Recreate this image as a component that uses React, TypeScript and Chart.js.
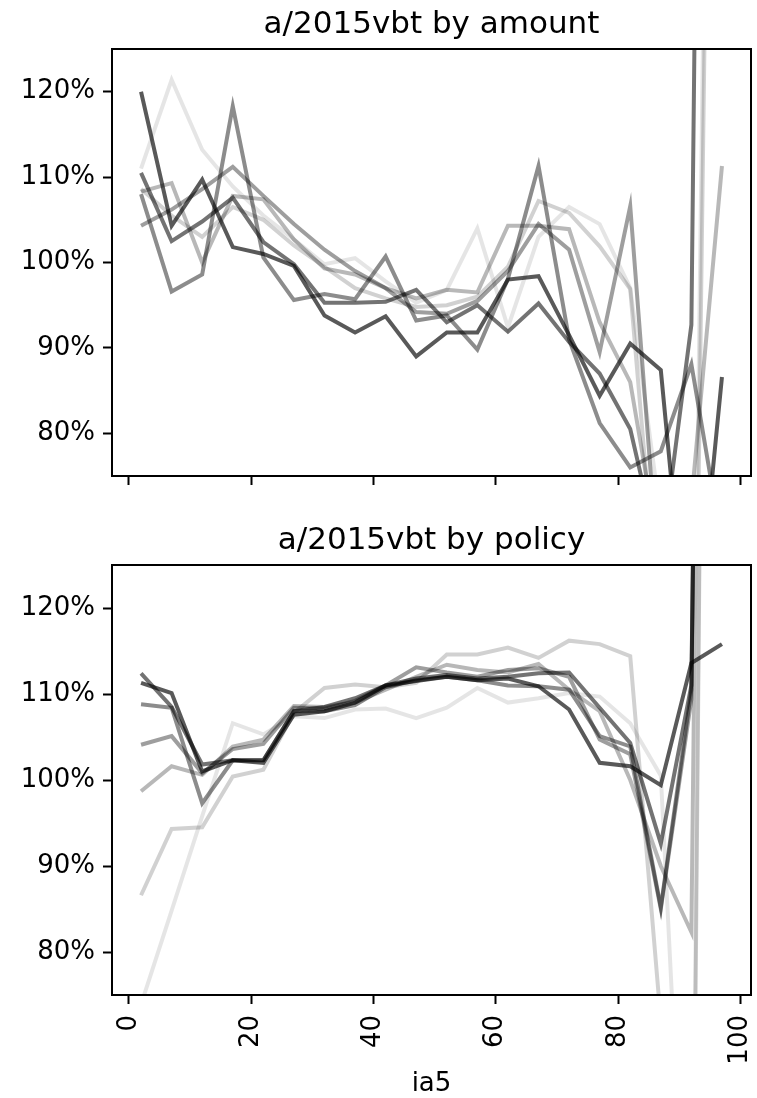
import { useEffect, useRef } from "react";
import { Chart, registerables } from "chart.js";

Chart.register(...registerables);

// ---- data ----
const ia5 = [2, 7, 12, 17, 22, 27, 32, 37, 42, 47, 52, 57, 62, 67, 72, 77, 82, 87, 92, 97];
const xTicks = [0, 20, 40, 60, 80, 100];
const yTicks = [80, 90, 100, 110, 120];
const lineAlphas = [0.1, 0.18, 0.28, 0.38, 0.45, 0.55, 0.65];

const titleAmount = "a/2015vbt by amount";
const titlePolicy = "a/2015vbt by policy";
const xAxisLabel = "ia5";

// by amount (%)
const amount1 = [111.0, 121.4, 113.2, 108.9, 105.5, 102.7, 99.8, 100.5, 97.8, 95.3, 96.8, 104.0, 92.4, 103.0, 106.5, 104.5, 97.0, 70.0, 20.0, 300.0];
const amount2 = [108.6, 105.5, 103.0, 106.5, 105.0, 102.0, 99.5, 97.0, 95.8, 94.8, 95.0, 96.0, 99.5, 107.2, 105.8, 101.9, 96.9, 55.0, 10.0, 280.0];
const amount3 = [108.3, 109.3, 100.0, 107.8, 107.4, 102.7, 99.3, 98.6, 97.0, 95.8, 96.8, 96.5, 104.3, 104.3, 103.9, 93.0, 86.0, 65.0, 72.0, 111.3];
const amount4 = [104.3, 106.2, 108.6, 111.2, 107.8, 104.5, 101.5, 99.0, 97.0, 94.2, 94.0, 95.5, 99.0, 104.5, 101.5, 89.5, 106.6, 60.0, 40.0, 40.0];
const amount5 = [108.0, 96.6, 98.6, 118.3, 100.6, 95.6, 96.3, 95.7, 100.7, 93.2, 93.8, 89.8, 98.1, 111.3, 91.0, 81.2, 76.0, 77.9, 88.1, 67.0];
const amount6 = [110.5, 102.5, 104.8, 107.6, 102.4, 99.8, 95.3, 95.3, 95.4, 96.8, 93.0, 95.0, 91.9, 95.2, 90.7, 87.0, 80.5, 65.0, 92.7, 420.0];
const amount7 = [120.0, 104.3, 109.7, 101.8, 101.0, 99.6, 93.8, 91.8, 93.7, 89.0, 91.8, 91.8, 98.0, 98.4, 91.5, 84.4, 90.5, 87.4, 50.0, 86.6];

// by policy (%)
const policy1 = [73.9, 84.8, 95.8, 106.6, 105.3, 107.4, 107.2, 108.2, 108.3, 107.2, 108.4, 110.7, 109.0, 109.5, 110.1, 109.7, 106.6, 100.5, 30.0, 400.0];
const policy2 = [86.6, 94.3, 94.5, 100.4, 101.2, 107.8, 110.7, 111.1, 110.8, 111.3, 114.6, 114.6, 115.4, 114.2, 116.2, 115.8, 114.4, 72.0, 20.0, 420.0];
const policy3 = [98.7, 101.6, 100.6, 103.9, 104.7, 108.6, 108.5, 109.0, 110.5, 112.0, 113.4, 112.8, 112.5, 113.5, 110.5, 108.0, 100.0, 90.0, 82.3, 400.0];
const policy4 = [104.1, 105.1, 100.8, 103.6, 104.2, 108.4, 108.3, 109.2, 111.0, 113.1, 112.5, 112.0, 112.8, 113.0, 112.0, 104.7, 103.0, 85.0, 109.4, 400.0];
const policy5 = [108.8, 108.4, 97.3, 102.3, 102.3, 108.0, 108.0, 108.7, 110.8, 111.6, 112.0, 111.6, 111.0, 110.9, 110.5, 105.1, 103.9, 85.2, 110.5, 400.0];
const policy6 = [112.4, 108.5, 101.8, 102.3, 102.3, 108.0, 108.5, 109.5, 111.0, 111.8, 112.2, 111.8, 112.0, 112.4, 112.5, 108.4, 104.3, 92.6, 111.0, 400.0];
const policy7 = [111.3, 110.1, 101.0, 102.3, 102.0, 107.6, 108.0, 109.0, 111.0, 111.5, 112.0, 111.6, 111.8, 110.9, 108.2, 102.0, 101.6, 99.4, 113.6, 115.8];

const amountSeries = [amount1, amount2, amount3, amount4, amount5, amount6, amount7];
const policySeries = [policy1, policy2, policy3, policy4, policy5, policy6, policy7];

const FONT = "'DejaVu Sans', sans-serif";
const W = 757;

const framePlugin = {
  id: "frame",
  afterDatasetsDraw(chart: any) {
    const { ctx, chartArea: a } = chart;
    ctx.save();
    ctx.strokeStyle = "#000";
    ctx.lineWidth = 2;
    ctx.strokeRect(a.left, a.top, a.right - a.left, a.bottom - a.top);
    ctx.restore();
  },
  afterDraw(chart: any, _args: any, opts: any) {
    const { ctx, chartArea: a } = chart;
    ctx.save();
    ctx.fillStyle = "#000";
    ctx.textAlign = "center";
    ctx.textBaseline = "alphabetic";
    ctx.font = `31px ${FONT}`;
    const cx = (a.left + a.right) / 2;
    if (opts.title) ctx.fillText(opts.title, cx, a.top - 16);
    if (opts.xLabel) {
      ctx.font = `26px ${FONT}`;
      ctx.fillText(opts.xLabel, cx, opts.xLabelY);
    }
    ctx.restore();
  },
};

function makeConfig(series: number[][], title: string, showX: boolean, padTop: number, xHeight: number, xLabel?: string, xLabelY?: number): any {
  return {
    type: "line",
    data: {
      datasets: series.map((vals, i) => ({
        data: vals.map((v, j) => ({ x: ia5[j], y: v })),
        borderColor: `rgba(0,0,0,${lineAlphas[i]})`,
        borderWidth: 4,
        pointRadius: 0,
        tension: 0,
        fill: false,
        clip: 0,
      })),
    },
    options: {
      animation: false,
      responsive: false,
      devicePixelRatio: 1,
      layout: { padding: { top: padTop, right: 6, left: 0, bottom: 0 } },
      plugins: {
        legend: { display: false },
        tooltip: { enabled: false },
        title: { display: false },
        frame: { title, xLabel, xLabelY },
      },
      scales: {
        x: {
          type: "linear",
          min: -2.75,
          max: 101.75,
          afterBuildTicks: (s: any) => {
            s.ticks = xTicks.map((v) => ({ value: v }));
          },
          afterFit: (s: any) => {
            s.height = xHeight;
            s.paddingLeft = 0;
            s.paddingRight = 0;
          },
          grid: { drawOnChartArea: false, drawTicks: true, tickLength: 9, tickWidth: 2, tickColor: "#000", color: "#000" },
          border: { display: false },
          ticks: {
            display: showX,
            autoSkip: false,
            minRotation: 90,
            maxRotation: 90,
            padding: 11,
            color: "#000",
            font: { family: FONT, size: 26 },
            callback: (v: any) => String(v),
          },
        },
        y: {
          type: "linear",
          min: 75,
          max: 125,
          afterBuildTicks: (s: any) => {
            s.ticks = yTicks.map((v) => ({ value: v }));
          },
          afterFit: (s: any) => {
            s.width = 112;
          },
          grid: { drawOnChartArea: false, drawTicks: true, tickLength: 9, tickWidth: 2, tickColor: "#000", color: "#000" },
          border: { display: false },
          ticks: {
            padding: 8,
            color: "#000",
            font: { family: FONT, size: 26 },
            callback: (v: any) => `${v}%`,
          },
        },
      },
    },
    plugins: [framePlugin],
  };
}

export default function App() {
  const topRef = useRef<HTMLCanvasElement>(null);
  const botRef = useRef<HTMLCanvasElement>(null);

  useEffect(() => {
    const c1 = new Chart(topRef.current as HTMLCanvasElement, makeConfig(amountSeries, titleAmount, false, 49, 24));
    const c2 = new Chart(
      botRef.current as HTMLCanvasElement,
      makeConfig(policySeries, titlePolicy, true, 65, 103, xAxisLabel, 591)
    );
    return () => {
      c1.destroy();
      c2.destroy();
    };
  }, []);

  return (
    <div style={{ position: "absolute", left: 0, top: 0, width: W, height: 1098, background: "#fff" }}>
      <canvas ref={topRef} width={W} height={500} style={{ display: "block", width: W, height: 500 }} />
      <canvas ref={botRef} width={W} height={598} style={{ display: "block", width: W, height: 598 }} />
    </div>
  );
}
